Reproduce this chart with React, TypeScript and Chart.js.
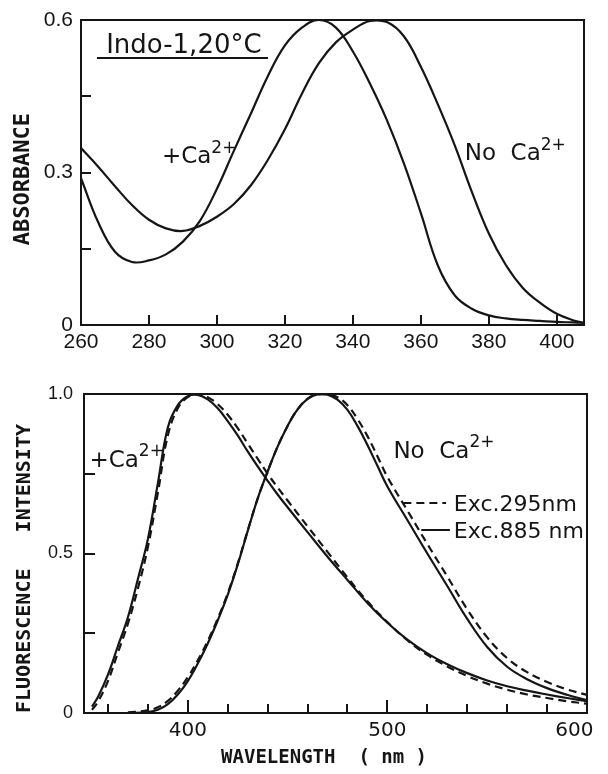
import React, { useEffect, useRef } from 'react';
import { Chart, registerables } from 'chart.js';

Chart.register(...registerables);

const INK = '#151515';

// ---------- Upper panel: absorbance ----------
const ABS_WL = [260, 265, 270, 275, 280, 285, 290, 295, 300, 305, 310, 315, 320, 325, 330, 335, 340, 345, 350, 355, 360, 365, 370, 375, 380, 385, 390, 395, 400, 405, 408];
const ABS_CA = [0.289, 0.203, 0.144, 0.124, 0.127, 0.139, 0.164, 0.205, 0.268, 0.343, 0.416, 0.49, 0.55, 0.585, 0.6, 0.585, 0.538, 0.475, 0.403, 0.318, 0.22, 0.117, 0.058, 0.032, 0.019, 0.013, 0.01, 0.008, 0.006, 0.005, 0.004];
const ABS_NOCA = [0.348, 0.312, 0.273, 0.236, 0.207, 0.19, 0.185, 0.195, 0.213, 0.238, 0.275, 0.325, 0.385, 0.455, 0.515, 0.556, 0.581, 0.598, 0.596, 0.568, 0.508, 0.434, 0.353, 0.262, 0.18, 0.118, 0.073, 0.044, 0.022, 0.009, 0.004];
const ABS_X_TICKS = [260, 280, 300, 320, 340, 360, 380, 400];
const ABS_Y_TICKS = [0, 0.15, 0.3, 0.45, 0.6];
const ABS_Y_LABELS = ['0', '', '0.3', '', '0.6'];

// ---------- Lower panel: fluorescence ----------
const FL_CA_WL = [352, 355, 360, 365, 370, 375, 380, 385, 390, 395, 400, 405, 410, 415, 420, 425, 430, 435, 440, 445, 450, 460, 470, 480, 490, 500, 510, 520, 530, 540, 550, 560, 570, 580, 590, 600];
const FL_CA_885 = [0.02, 0.05, 0.12, 0.21, 0.3, 0.42, 0.545, 0.72, 0.895, 0.965, 0.993, 0.997, 0.983, 0.955, 0.915, 0.87, 0.82, 0.773, 0.728, 0.685, 0.645, 0.567, 0.49, 0.417, 0.345, 0.283, 0.23, 0.187, 0.153, 0.125, 0.102, 0.084, 0.07, 0.058, 0.047, 0.037];
const FL_CA_295 = [0.01, 0.035, 0.1, 0.19, 0.28, 0.39, 0.52, 0.69, 0.87, 0.955, 0.99, 1.0, 0.99, 0.968, 0.935, 0.893, 0.845, 0.797, 0.75, 0.707, 0.666, 0.585, 0.505, 0.425, 0.35, 0.285, 0.228, 0.182, 0.146, 0.116, 0.092, 0.073, 0.058, 0.047, 0.037, 0.029];
const FL_NOCA_WL = [370, 380, 385, 390, 395, 400, 405, 410, 415, 420, 425, 430, 435, 440, 445, 450, 455, 460, 465, 470, 475, 480, 485, 490, 495, 500, 510, 520, 530, 540, 550, 560, 570, 580, 590, 600];
const FL_NOCA_885 = [0.0, 0.003, 0.01, 0.028, 0.058, 0.1, 0.155, 0.218, 0.29, 0.37, 0.465, 0.57, 0.672, 0.757, 0.835, 0.9, 0.952, 0.985, 0.999, 0.998, 0.982, 0.95, 0.9, 0.84, 0.775, 0.71, 0.605, 0.5, 0.398, 0.295, 0.207, 0.145, 0.106, 0.078, 0.057, 0.04];
const FL_NOCA_295 = [0.002, 0.008, 0.018, 0.038, 0.07, 0.112, 0.165, 0.226, 0.296, 0.375, 0.468, 0.572, 0.672, 0.757, 0.835, 0.9, 0.952, 0.985, 0.999, 1.0, 0.99, 0.965, 0.922, 0.868, 0.805, 0.74, 0.635, 0.53, 0.428, 0.325, 0.237, 0.172, 0.128, 0.097, 0.074, 0.057];
const FL_X_TICKS = [360, 380, 400, 420, 440, 460, 480, 500, 520, 540, 560, 580, 600];
const FL_X_LABELED = [400, 500, 600];
const FL_Y_TICKS = [0, 0.25, 0.5, 0.75, 1.0];
const FL_Y_LABELS = ['0', '', '0.5', '', '1.0'];

const ANNOT_FONT = "'DejaVu Sans', sans-serif";
const TICK_FONT = "'Liberation Sans', Arial, sans-serif";
const TITLE_FONT = "'DejaVu Sans Mono', monospace";

type Note = { x: number; y: number; text: string; size: number; sup?: string; supSize?: number; raise?: number };
type Rule = { x1: number; x2: number; y: number; dash?: number[] };

function makeFrameTicks(cfg: { xTicks: number[]; yTicks: number[]; xLen: number; yLen: number; xMajor: number[]; xMajorLen: number }) {
  return {
    id: 'frameTicks',
    afterDatasetsDraw(chart: any) {
      const { ctx, chartArea: a, scales } = chart;
      ctx.save();
      ctx.strokeStyle = INK;
      ctx.lineWidth = 2;
      ctx.strokeRect(a.left, a.top, a.right - a.left, a.bottom - a.top);
      ctx.beginPath();
      for (const v of cfg.xTicks) {
        const px = Math.round(scales.x.getPixelForValue(v));
        if (px <= a.left + 2 || px >= a.right - 2) continue;
        const len = cfg.xMajor.includes(v) ? cfg.xMajorLen : cfg.xLen;
        ctx.moveTo(px, a.bottom);
        ctx.lineTo(px, a.bottom - len);
      }
      for (const v of cfg.yTicks) {
        const py = Math.round(scales.y.getPixelForValue(v));
        if (py <= a.top + 2 || py >= a.bottom - 2) continue;
        ctx.moveTo(a.left, py);
        ctx.lineTo(a.left + cfg.yLen, py);
      }
      ctx.stroke();
      ctx.restore();
    },
  };
}

function makeNotes(notes: Note[], rules: Rule[]) {
  return {
    id: 'notes',
    afterDatasetsDraw(chart: any) {
      const { ctx, scales } = chart;
      ctx.save();
      ctx.fillStyle = INK;
      ctx.strokeStyle = INK;
      ctx.textBaseline = 'alphabetic';
      ctx.textAlign = 'left';
      for (const n of notes) {
        const px = scales.x.getPixelForValue(n.x);
        const py = scales.y.getPixelForValue(n.y);
        ctx.font = `${n.size}px ${ANNOT_FONT}`;
        ctx.fillText(n.text, px, py);
        if (n.sup) {
          const w = ctx.measureText(n.text).width;
          ctx.font = `${n.supSize}px ${ANNOT_FONT}`;
          ctx.fillText(n.sup, px + w, py - (n.raise || 9));
        }
      }
      for (const r of rules) {
        ctx.lineWidth = 2;
        ctx.setLineDash(r.dash || []);
        ctx.beginPath();
        const y = Math.round(scales.y.getPixelForValue(r.y));
        ctx.moveTo(scales.x.getPixelForValue(r.x1), y);
        ctx.lineTo(scales.x.getPixelForValue(r.x2), y);
        ctx.stroke();
      }
      ctx.restore();
    },
  };
}

function series(wl: number[], vals: number[], dash?: number[]) {
  return {
    data: wl.map((x, i) => ({ x, y: vals[i] })),
    borderColor: INK,
    borderWidth: 2.2,
    borderDash: dash || [],
    pointRadius: 0,
    fill: false,
    tension: 0.4,
  };
}

const fitX = (h: number) => (s: any) => {
  s.height = h;
  s.paddingLeft = 0;
  s.paddingRight = 0;
};
const fitY = (w: number) => (s: any) => {
  s.width = w;
  s.paddingTop = 0;
  s.paddingBottom = 0;
};

function topConfig(): any {
  return {
    type: 'line',
    data: {
      datasets: [series(ABS_WL, ABS_CA), series(ABS_WL, ABS_NOCA)],
    },
    options: {
      responsive: false,
      animation: false,
      events: [],
      layout: { padding: { left: 0, right: 24, top: 20, bottom: 0 } },
      plugins: { legend: { display: false }, tooltip: { enabled: false } },
      scales: {
        x: {
          type: 'linear',
          min: 260,
          max: 408,
          grid: { display: false, drawTicks: false },
          border: { display: false },
          afterBuildTicks: (s: any) => { s.ticks = ABS_X_TICKS.map((v) => ({ value: v })); },
          afterFit: fitX(45),
          ticks: {
            autoSkip: false,
            maxRotation: 0,
            padding: 5,
            color: INK,
            font: { family: TICK_FONT, size: 21 },
            callback: (v: number) => String(v),
          },
        },
        y: {
          type: 'linear',
          min: 0,
          max: 0.6,
          grid: { display: false, drawTicks: false },
          border: { display: false },
          afterBuildTicks: (s: any) => { s.ticks = ABS_Y_TICKS.map((v) => ({ value: v })); },
          afterFit: fitY(81),
          ticks: {
            autoSkip: false,
            padding: 8,
            color: INK,
            font: { family: TICK_FONT, size: 21 },
            callback: (v: number) => ABS_Y_LABELS[ABS_Y_TICKS.indexOf(v)] ?? '',
          },
          title: {
            display: true,
            text: 'ABSORBANCE ',
            color: INK,
            font: { family: TITLE_FONT, size: 22, weight: 'bold' },
            padding: { top: 10, bottom: 0 },
          },
        },
      },
    },
    plugins: [
      makeFrameTicks({ xTicks: ABS_X_TICKS, yTicks: ABS_Y_TICKS, xLen: 10, yLen: 10, xMajor: [], xMajorLen: 10 }),
      makeNotes(
        [
          { x: 267.4, y: 0.535, text: 'Indo-1,20°C', size: 26 },
          { x: 283.8, y: 0.319, text: '+Ca', size: 23, sup: '2+', supSize: 17, raise: 10 },
          { x: 372.9, y: 0.325, text: 'No  Ca', size: 23, sup: '2+', supSize: 17, raise: 10 },
        ],
        [{ x1: 264.7, x2: 315, y: 0.526 }]
      ),
    ],
  };
}

function botConfig(): any {
  return {
    type: 'line',
    data: {
      datasets: [
        series(FL_CA_WL, FL_CA_295, [8, 5]),
        series(FL_NOCA_WL, FL_NOCA_295, [8, 5]),
        series(FL_CA_WL, FL_CA_885),
        series(FL_NOCA_WL, FL_NOCA_885),
      ],
    },
    options: {
      responsive: false,
      animation: false,
      events: [],
      layout: { padding: { left: 0, right: 21, top: 24, bottom: 0 } },
      plugins: { legend: { display: false }, tooltip: { enabled: false } },
      scales: {
        x: {
          type: 'linear',
          min: 348,
          max: 600,
          grid: { display: false, drawTicks: false },
          border: { display: false },
          afterBuildTicks: (s: any) => { s.ticks = FL_X_TICKS.map((v) => ({ value: v })); },
          afterFit: fitX(61),
          ticks: {
            autoSkip: false,
            maxRotation: 0,
            padding: 6,
            color: INK,
            font: { family: ANNOT_FONT, size: 20 },
            callback: (v: number) => (FL_X_LABELED.includes(v) ? (v === 600 ? '600    ' : String(v)) : ''),
          },
          title: {
            display: true,
            text: 'WAVELENGTH  ( nm )  ',
            color: INK,
            font: { family: TITLE_FONT, size: 19, weight: 'bold' },
            padding: { top: 0, bottom: 5 },
          },
        },
        y: {
          type: 'linear',
          min: 0,
          max: 1.0,
          grid: { display: false, drawTicks: false },
          border: { display: false },
          afterBuildTicks: (s: any) => { s.ticks = FL_Y_TICKS.map((v) => ({ value: v })); },
          afterFit: fitY(84),
          ticks: {
            autoSkip: false,
            padding: 11,
            color: INK,
            font: { family: TICK_FONT, size: 18 },
            callback: (v: number) => FL_Y_LABELS[FL_Y_TICKS.indexOf(v)] ?? '',
          },
          title: {
            display: true,
            text: 'FLUORESCENCE   INTENSITY',
            align: 'start',
            color: INK,
            font: { family: TITLE_FONT, size: 20, weight: 'bold' },
            padding: { top: 13, bottom: 0 },
          },
        },
      },
    },
    plugins: [
      makeFrameTicks({ xTicks: FL_X_TICKS, yTicks: FL_Y_TICKS, xLen: 9, yLen: 11, xMajor: [400, 500], xMajorLen: 13 }),
      makeNotes(
        [
          { x: 350.7, y: 0.771, text: '+Ca', size: 23, sup: '2+', supSize: 17, raise: 11 },
          { x: 503, y: 0.799, text: 'No  Ca', size: 23, sup: '2+', supSize: 17, raise: 11 },
          { x: 533.3, y: 0.633, text: 'Exc.295nm', size: 22 },
          { x: 533.3, y: 0.549, text: 'Exc.885 nm', size: 22 },
        ],
        [
          { x1: 508, x2: 529.4, y: 0.658, dash: [8, 5] },
          { x1: 517, x2: 531.3, y: 0.574 },
        ]
      ),
    ],
  };
}

export default function App() {
  const topRef = useRef<HTMLCanvasElement>(null);
  const botRef = useRef<HTMLCanvasElement>(null);

  useEffect(() => {
    const top = new Chart(topRef.current as HTMLCanvasElement, topConfig());
    const bot = new Chart(botRef.current as HTMLCanvasElement, botConfig());
    return () => {
      top.destroy();
      bot.destroy();
    };
  }, []);

  return (
    <div style={{ position: 'absolute', left: 0, top: 0, width: 608, height: 774, background: '#fff' }}>
      <canvas ref={topRef} width={608} height={370} style={{ position: 'absolute', left: 0, top: 0 }} />
      <canvas ref={botRef} width={608} height={404} style={{ position: 'absolute', left: 0, top: 370 }} />
    </div>
  );
}
